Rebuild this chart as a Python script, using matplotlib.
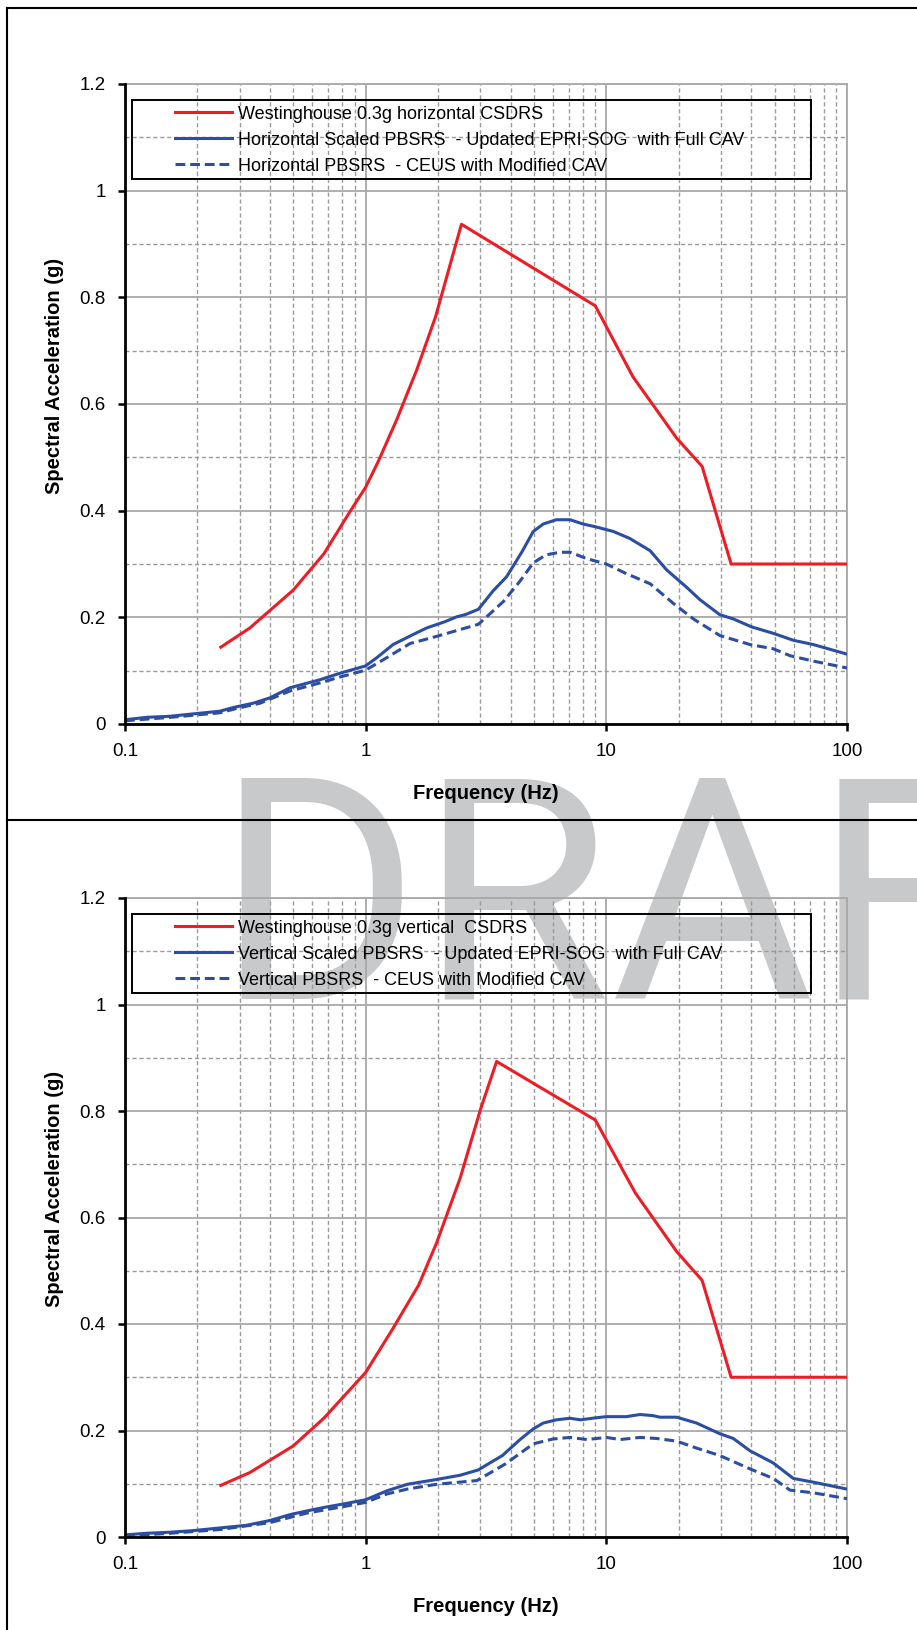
import matplotlib.pyplot as plt
import matplotlib as mpl
from matplotlib.lines import Line2D
from matplotlib.patches import Rectangle
from matplotlib.ticker import FixedLocator, NullFormatter, LogLocator, MultipleLocator

mpl.rcParams['font.family'] = ['Liberation Sans', 'DejaVu Sans']

# ---- horizontal (top panel) ----
red_h_f = [0.25, 0.33, 0.5, 0.67, 0.86, 1.0, 1.13, 1.35, 1.63, 1.95, 2.5, 9.0, 12.9, 19.6, 25.0, 33.0, 100]
red_h_v = [0.144, 0.180, 0.251, 0.319, 0.398, 0.444, 0.493, 0.572, 0.664, 0.763, 0.937, 0.784, 0.651, 0.536, 0.483, 0.300, 0.300]

blue_h_f = [0.1, 0.123, 0.154, 0.192, 0.248, 0.282, 0.341, 0.40, 0.485, 0.646, 0.78, 1.0, 1.11, 1.30, 1.53,
            1.79, 2.14, 2.39, 2.59, 2.94, 3.39, 3.85, 4.45, 4.97, 5.47, 6.2, 7.07, 8.0, 8.97, 10.7, 12.5,
            15.2, 17.8, 21.6, 24.5, 29.6, 33.7, 40.2, 49.4, 59.8, 72.4, 100]
blue_h_v = [0.008, 0.0125, 0.0145, 0.019, 0.024, 0.031, 0.039, 0.049, 0.068, 0.083, 0.095, 0.109, 0.124, 0.149, 0.165,
            0.180, 0.192, 0.201, 0.205, 0.215, 0.250, 0.276, 0.322, 0.361, 0.375, 0.383, 0.383, 0.375, 0.370, 0.361, 0.348,
            0.325, 0.289, 0.256, 0.233, 0.205, 0.197, 0.182, 0.170, 0.157, 0.149, 0.131]

dash_h_f = [0.1, 0.154, 0.248, 0.29, 0.364, 0.485, 0.646, 0.78, 1.0, 1.22, 1.53, 1.96, 2.94, 3.29, 3.74, 4.38,
            4.97, 5.6, 6.4, 7.07, 8.3, 10.0, 12.1, 15.2, 19.0, 23.0, 29.6, 39.5, 49.4, 58, 72.4, 100]
dash_h_v = [0.006, 0.0125, 0.021, 0.029, 0.039, 0.062, 0.077, 0.088, 0.101, 0.124, 0.151, 0.164, 0.187, 0.207, 0.230, 0.268,
            0.302, 0.317, 0.322, 0.322, 0.310, 0.300, 0.282, 0.263, 0.226, 0.197, 0.166, 0.149, 0.141, 0.128, 0.118, 0.105]

# ---- vertical (bottom panel) ----
red_v_f = [0.25, 0.33, 0.5, 0.67, 1.0, 1.3, 1.66, 1.97, 2.47, 3.0, 3.5, 9.0, 13.2, 19.6, 25.0, 33.0, 100]
red_v_v = [0.097, 0.121, 0.171, 0.223, 0.309, 0.392, 0.473, 0.552, 0.674, 0.803, 0.893, 0.783, 0.646, 0.536, 0.482, 0.300, 0.300]

blue_v_f = [0.1, 0.123, 0.154, 0.192, 0.248, 0.32, 0.40, 0.485, 0.57, 0.68, 0.83, 1.0, 1.23, 1.49, 1.97, 2.47,
            2.94, 3.28, 3.7, 4.38, 4.97, 5.47, 6.2, 7.07, 7.8, 9.1, 10.0, 12.1, 13.8, 15.6, 16.7, 19.6, 23.7,
            29.6, 33.7, 39.5, 49.4, 59.8, 72.4, 100]
blue_v_v = [0.004, 0.007, 0.009, 0.012, 0.017, 0.022, 0.031, 0.042, 0.049, 0.056, 0.063, 0.070, 0.087, 0.099, 0.108, 0.116,
            0.126, 0.139, 0.153, 0.183, 0.203, 0.214, 0.220, 0.223, 0.220, 0.224, 0.226, 0.226, 0.230, 0.228, 0.225, 0.225, 0.214,
            0.194, 0.185, 0.162, 0.139, 0.110, 0.103, 0.090]

dash_v_f = [0.1, 0.154, 0.248, 0.40, 0.57, 0.83, 1.0, 1.23, 1.49, 1.97, 2.9, 3.8, 4.38, 4.97, 6.0, 7.07, 8.3,
            10.0, 11.4, 13.8, 16.2, 19.6, 23.7, 29.6, 39.5, 49.4, 58, 72.4, 100]
dash_v_v = [0.002, 0.007, 0.014, 0.027, 0.045, 0.058, 0.065, 0.081, 0.090, 0.099, 0.106, 0.137, 0.157, 0.175, 0.184, 0.187, 0.183,
            0.187, 0.183, 0.187, 0.185, 0.180, 0.167, 0.153, 0.128, 0.110, 0.088, 0.083, 0.072]

labels_h = ['Westinghouse 0.3g horizontal CSDRS',
            'Horizontal Scaled PBSRS  - Updated EPRI-SOG  with Full CAV',
            'Horizontal PBSRS  - CEUS with Modified CAV']
labels_v = ['Westinghouse 0.3g vertical  CSDRS',
            'Vertical Scaled PBSRS  - Updated EPRI-SOG  with Full CAV',
            'Vertical PBSRS  - CEUS with Modified CAV']

xticks = [0.1, 1, 10, 100]
xticklabels = ['0.1', '1', '10', '100']
yticks = [0, 0.2, 0.4, 0.6, 0.8, 1.0, 1.2]
yticklabels = ['0', '0.2', '0.4', '0.6', '0.8', '1', '1.2']

red = '#EE1C25'
blue = '#2B4DA3'
lw = 2.2

fig = plt.figure(figsize=(9.17, 16.30), dpi=100)

# DRAFT watermark behind everything
fig.text(0.2345, 0.3877, 'DRAFT', fontsize=224, color='#C8C9CA', ha='left', va='baseline',
         family=['Roboto', 'Liberation Sans'], zorder=-5)

# page frame lines
for ln in [Line2D([7 / 917, 7 / 917], [0, 1 - 8 / 1630]),
           Line2D([7 / 917, 1], [1 - 8 / 1630, 1 - 8 / 1630]),
           Line2D([7 / 917, 1], [1 - 820 / 1630, 1 - 820 / 1630])]:
    ln.set_color('black')
    ln.set_linewidth(1.5)
    ln.set_transform(fig.transFigure)
    fig.add_artist(ln)

ax_top = fig.add_axes([125 / 917, 1 - 724 / 1630, 722 / 917, 640 / 1630])
ax_bot = fig.add_axes([125 / 917, 1 - 1537 / 1630, 722 / 917, 639 / 1630])

panels = [
    (ax_top, red_h_f, red_h_v, blue_h_f, blue_h_v, dash_h_f, dash_h_v, labels_h),
    (ax_bot, red_v_f, red_v_v, blue_v_f, blue_v_v, dash_v_f, dash_v_v, labels_v),
]

for ax, rf, rv, bf, bv, df, dv, labs in panels:
    ax.set_facecolor('none')
    l1, = ax.plot(rf, rv, color=red, lw=lw, zorder=4)
    l2, = ax.plot(bf, bv, color=blue, lw=lw, zorder=4)
    l3, = ax.plot(df, dv, color=blue, lw=lw, dashes=(3.2, 1.6), zorder=4)

    ax.set_xscale('log')
    ax.set_xlim(0.1, 100)
    ax.set_ylim(0, 1.2)

    ax.xaxis.set_major_locator(FixedLocator(xticks))
    ax.set_xticklabels(xticklabels)
    ax.xaxis.set_minor_locator(LogLocator(base=10, subs=[2, 3, 4, 5, 6, 7, 8, 9]))
    ax.xaxis.set_minor_formatter(NullFormatter())
    ax.set_yticks(yticks)
    ax.set_yticklabels(yticklabels)
    ax.yaxis.set_minor_locator(MultipleLocator(0.1))

    ax.grid(which='major', color='#A8A8A8', lw=1.3, ls='-', zorder=1)
    ax.grid(which='minor', color='#9A9A9A', lw=1.0, ls=(0, (3, 2)), zorder=1)
    ax.set_axisbelow(True)

    ax.tick_params(which='major', direction='out', length=5, width=1.8, labelsize=13.5, pad=9, color='black')
    ax.tick_params(which='minor', length=0)

    for s in ['top', 'right']:
        ax.spines[s].set_color('#A8A8A8')
        ax.spines[s].set_linewidth(1.3)
    for s in ['left', 'bottom']:
        ax.spines[s].set_color('black')
        ax.spines[s].set_linewidth(2.0)
        ax.spines[s].set_zorder(5)

    ax.set_xlabel('Frequency (Hz)', fontsize=14.5, fontweight='bold')
    ax.xaxis.label.set_va('center')
    ax.xaxis.set_label_coords(0.5, -0.108)
    ax.set_ylabel('Spectral Acceleration (g)', fontsize=14.5, fontweight='bold')
    ax.yaxis.label.set_va('center')
    ax.yaxis.set_label_coords(-0.098, 0.544)

    # legend box
    ax.add_patch(Rectangle((0.0093, 0.851), 0.9407, 0.124, transform=ax.transAxes,
                           facecolor='none', edgecolor='black', lw=1.4, zorder=6, clip_on=False))
    leg = ax.legend([l1, l2, l3], labs, loc='upper left', bbox_to_anchor=(0.069, 0.966),
                    frameon=False, fontsize=13, handlelength=3.16, handletextpad=0.33,
                    labelspacing=0.5, borderpad=0, borderaxespad=0)
    leg.set_zorder(7)

fig.savefig('out.png', dpi=100)
